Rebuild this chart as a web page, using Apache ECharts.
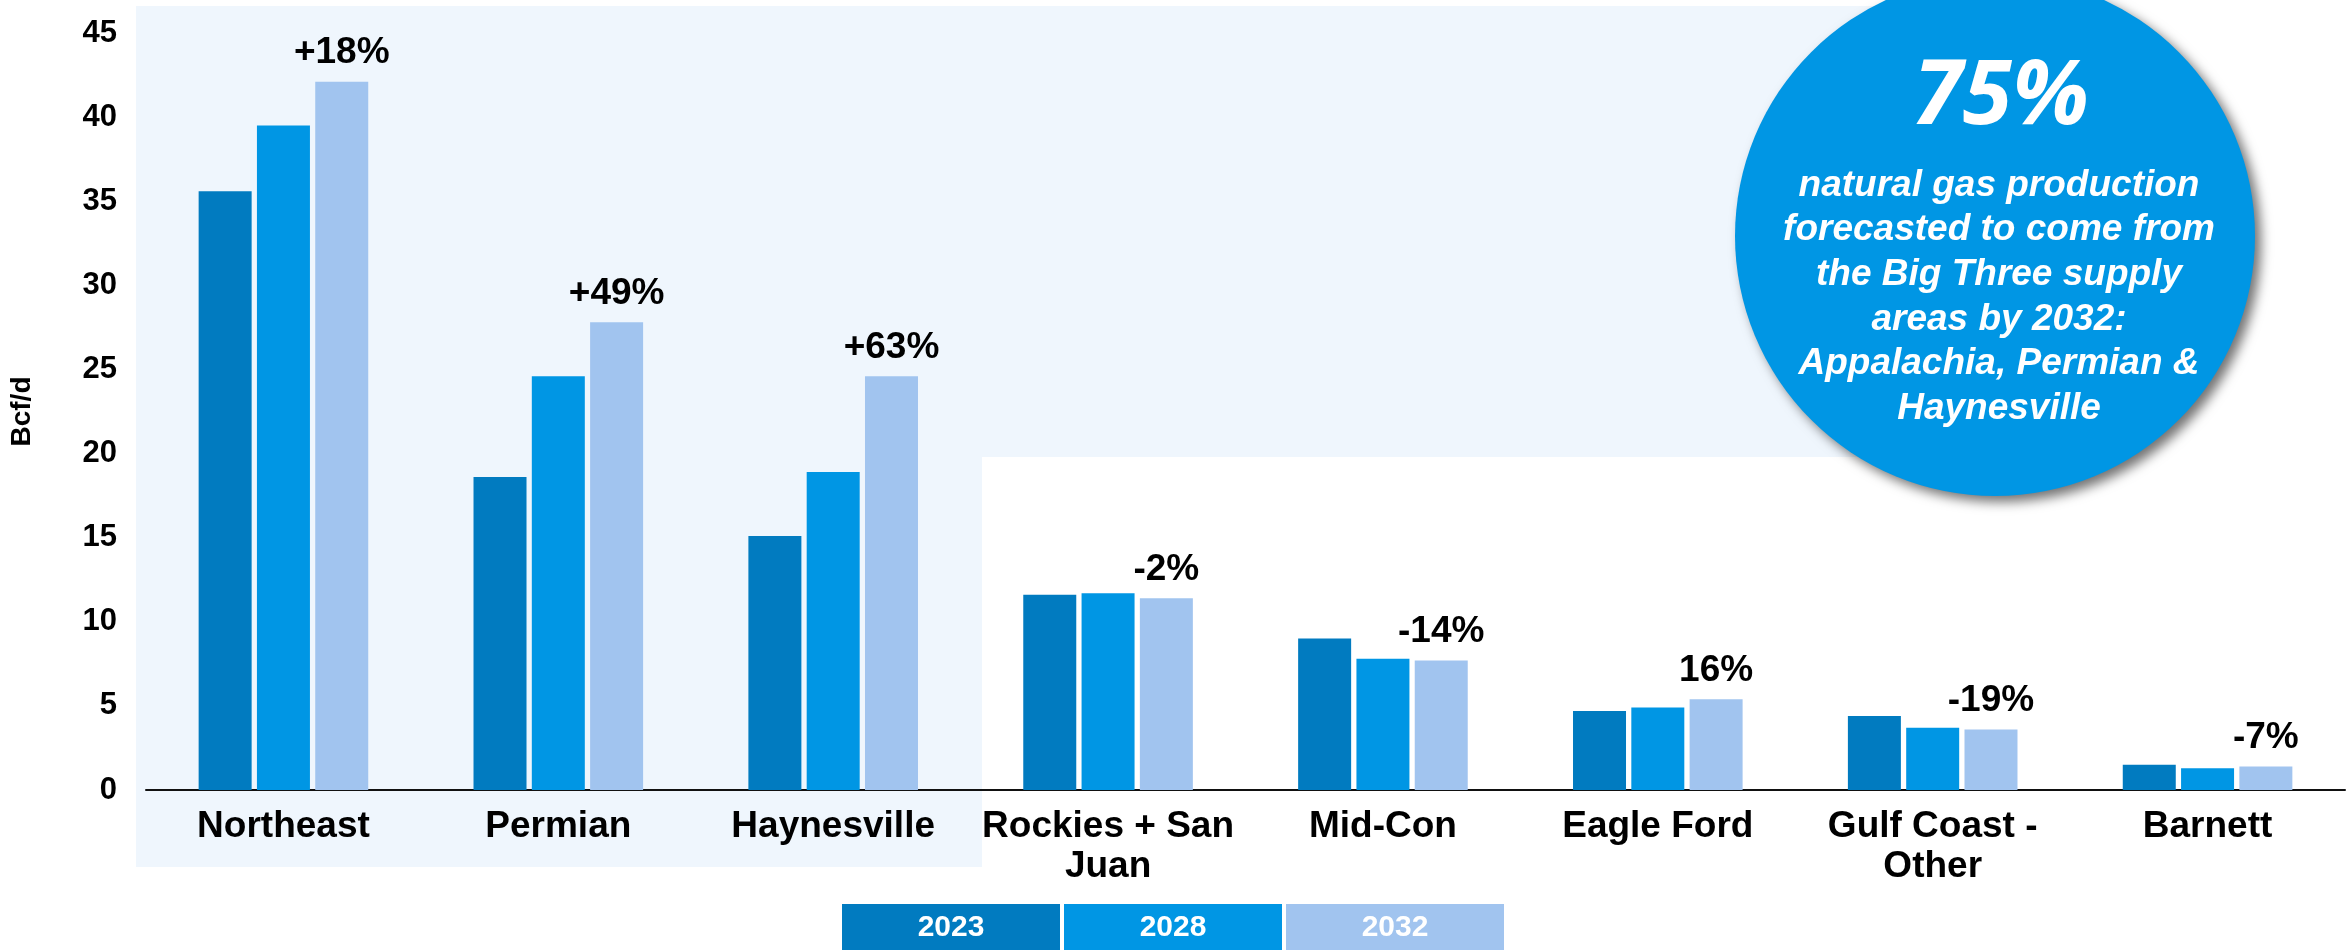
<!DOCTYPE html>
<html><head><meta charset="utf-8">
<script src="https://cdn.jsdelivr.net/npm/echarts@6/dist/echarts.min.js"></script>
<style>html,body{margin:0;padding:0;background:#fff}#c{width:2351px;height:950px}</style>
</head><body><div id="c"></div>
<script>
const categories = ['Northeast', 'Permian', 'Haynesville', 'Rockies + San\nJuan', 'Mid-Con', 'Eagle Ford', 'Gulf Coast -\nOther', 'Barnett'];
const years = ['2023', '2028', '2032'];
const v2023 = [35.6, 18.6, 15.1, 11.6, 9.0, 4.7, 4.4, 1.5];
const v2028 = [39.5, 24.6, 18.9, 11.7, 7.8, 4.9, 3.7, 1.3];
const v2032 = [42.1, 27.8, 24.6, 11.4, 7.7, 5.4, 3.6, 1.4];
const changeLabels = ['+18%', '+49%', '+63%', '-2%', '-14%', '16%', '-19%', '-7%'];
const yAxisName = 'Bcf/d';
const yMin = 0, yMax = 45, yStep = 5;
const calloutBig = '75%';
const calloutText = 'natural gas production\nforecasted to come from\nthe Big Three supply\nareas by 2032:\nAppalachia, Permian &\nHaynesville';

const colors = ['#017BC0', '#0096E4', '#A1C4EF'];
const FONT = '"Liberation Sans", Arial, sans-serif';
const seriesValues = [v2023, v2028, v2032];

const chart = echarts.init(document.getElementById('c'), null, {renderer: 'canvas'});

const legendGraphics = years.map((y, i) => ({
  type: 'group',
  x: 842 + i * 222,
  y: 904,
  children: [
    {type: 'rect', shape: {x: 0, y: 0, width: 218, height: 46}, style: {fill: colors[i]}},
    {type: 'text', x: 109, y: 24, style: {text: y, fill: '#fff', font: 'bold 30px ' + FONT, align: 'center', verticalAlign: 'middle'}}
  ]
}));

const option = {
  backgroundColor: '#ffffff',
  animation: false,
  grid: {left: 146, right: 6, top: 33, bottom: 160, containLabel: false},
  xAxis: {
    type: 'category',
    data: categories,
    axisLine: {show: true, lineStyle: {color: '#111', width: 2}},
    axisTick: {show: false},
    axisLabel: {color: '#000', fontFamily: FONT, fontWeight: 'bold', fontSize: 37, lineHeight: 40, margin: 17, interval: 0}
  },
  yAxis: {
    type: 'value',
    min: yMin, max: yMax, interval: yStep,
    name: yAxisName,
    nameLocation: 'middle',
    nameGap: 110,
    nameTextStyle: {color: '#000', fontFamily: FONT, fontWeight: 'bold', fontSize: 28},
    axisLine: {show: false},
    axisTick: {show: false},
    splitLine: {show: false},
    axisLabel: {color: '#000', fontFamily: FONT, fontWeight: 'bold', fontSize: 31, margin: 29}
  },
  series: years.map((y, i) => ({
    name: y,
    type: 'bar',
    data: seriesValues[i],
    barWidth: 53,
    barGap: '10%',
    itemStyle: {color: colors[i]},
    label: i === 2 ? {
      show: true,
      position: 'top',
      distance: 10,
      formatter: p => changeLabels[p.dataIndex],
      color: '#000',
      fontFamily: FONT,
      fontWeight: 'bold',
      fontSize: 37
    } : {show: false}
  })),
  graphic: [
    {
      type: 'group', z: -10, silent: true,
      children: [
        {type: 'rect', shape: {x: 136, y: 6, width: 1900, height: 451}, style: {fill: '#EFF6FD'}},
        {type: 'rect', shape: {x: 136, y: 457, width: 846, height: 410}, style: {fill: '#EFF6FD'}}
      ]
    },
    {
      type: 'group', z: 100, silent: true,
      children: [
        {type: 'circle', shape: {cx: 1995, cy: 236, r: 260},
          style: {fill: '#0096E4', shadowBlur: 12, shadowOffsetX: 6, shadowOffsetY: 6, shadowColor: 'rgba(0,0,0,0.55)'}},
        {type: 'text', x: 2001, y: 98, style: {text: calloutBig, fill: '#fff', font: 'italic bold 90px "Open Sans", ' + FONT, align: 'center', verticalAlign: 'middle'}},
        {type: 'text', x: 1999, y: 297, style: {text: calloutText, fill: '#fff', font: 'italic bold 37px ' + FONT, lineHeight: 44.6, align: 'center', verticalAlign: 'middle'}}
      ]
    },
    {type: 'group', z: 50, silent: true, children: legendGraphics}
  ]
};
chart.setOption(option);
</script>
</body></html>
